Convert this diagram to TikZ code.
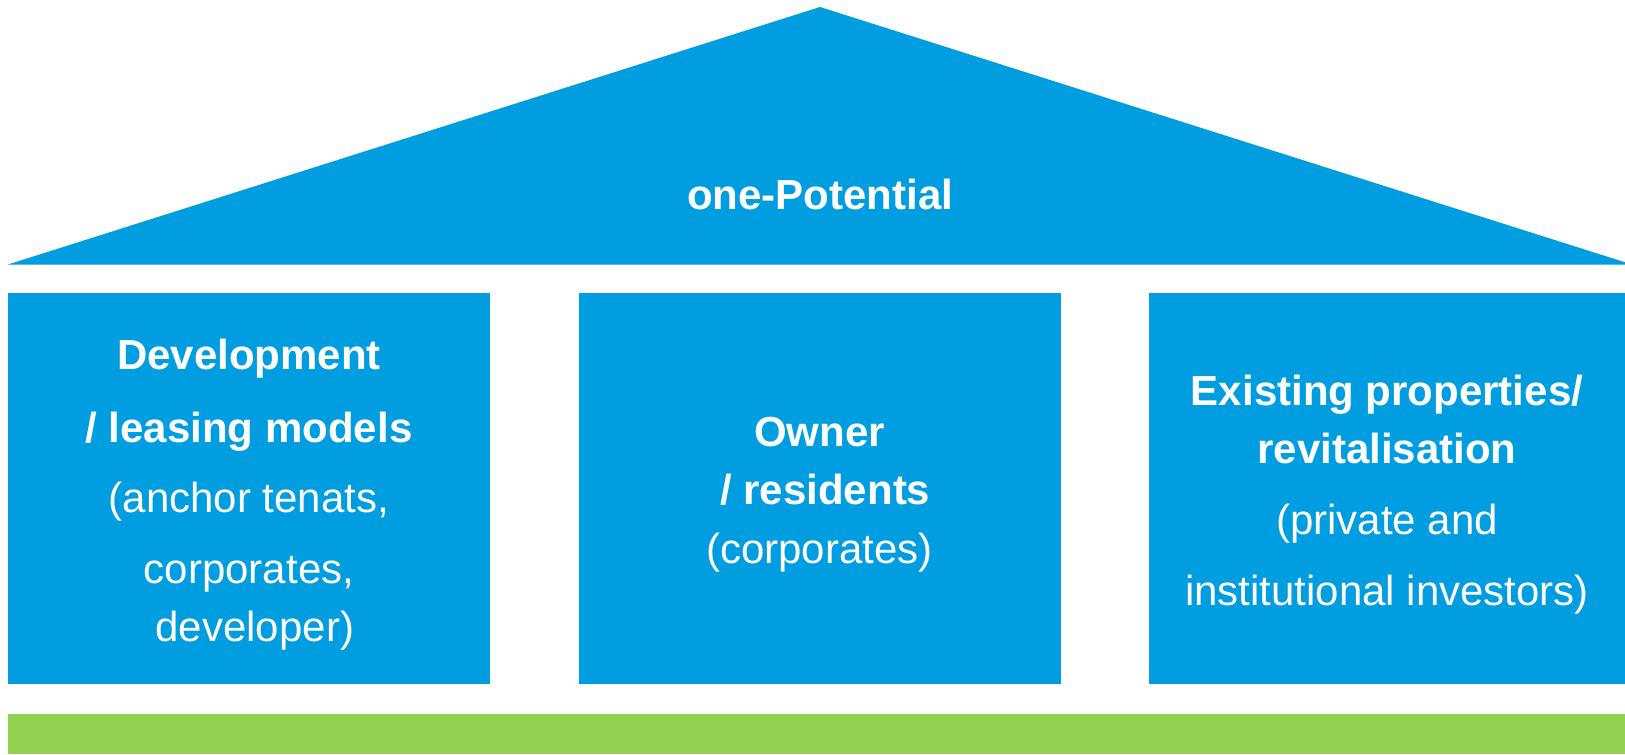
\documentclass[tikz,border=0pt]{standalone}
\usepackage{fontspec}
\setmainfont{Liberation Sans}
\usetikzlibrary{positioning}
\definecolor{roofblue}{HTML}{009EE0}
\definecolor{basegreen}{HTML}{92D050}

\begin{document}
\begin{tikzpicture}[
  x=0.75pt, y=-0.75pt,
  label/.style={text=white, align=center, font=\fontsize{31.5}{43.5}\selectfont},
  pillar/.style={fill=roofblue, inner sep=0pt, outer sep=0pt,
    minimum width=361.5pt, minimum height=293.25pt}
]
\useasboundingbox (0,0) rectangle (1625,754);

% roof
\fill[roofblue] (8,264.5) -- (820,7) -- (1632,264.5) -- cycle;
\node[label, anchor=base] (roof) at (820,209) {\textbf{one-Potential}};

% the three pillars
\node[pillar] (dev) at (249,488.5) {};
\node[pillar] (own) at (819.5,488.5) {};
\node[pillar, minimum width=357pt] (exist) at (1387,488.5) {};

% pillar texts, set a little below the centre
\node[label] (devtext) at ([yshift=-4.5pt]dev.center)
  {\textbf{Development}\\[11pt]
   \textbf{/ leasing models}\\[9pt]
   (anchor tenats,\\[9.5pt]
   corporates,\\
   \ developer)};
\node[label] (owntext) at ([yshift=-4.5pt]own.center)
  {\textbf{Owner}\\
   \textbf{\ / residents}\\[1pt]
   (corporates)};
\node[label] (existtext) at ([yshift=-4.5pt]exist.center)
  {\textbf{Existing properties/}\\
   \textbf{revitalisation}\\[9.5pt]
   (private and\\[10pt]
   institutional investors)};

% foundation
\fill[basegreen] (8,714) rectangle (1625,754);
\end{tikzpicture}
\end{document}
